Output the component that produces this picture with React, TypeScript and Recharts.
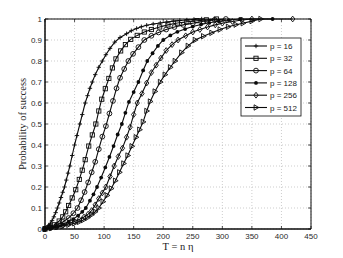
import React from 'react';
import { LineChart, Line, XAxis, YAxis, CartesianGrid, ReferenceArea } from 'recharts';

const xTicks = [0, 50, 100, 150, 200, 250, 300, 350, 400, 450];
const yTicks = [0, 0.1, 0.2, 0.3, 0.4, 0.5, 0.6, 0.7, 0.8, 0.9, 1];
const seriesLabels = ['p = 16', 'p = 32', 'p = 64', 'p = 128', 'p = 256', 'p = 512'];
const xTitle = 'T = n \u03B7';
const yTitle = 'Probability of success';

const p16: number[][] = [[0,0],[3,0.008],[6,0.016],[9,0.027],[12,0.04],[15,0.058],[18,0.078],[21,0.1],[24,0.124],[27,0.15],[30,0.175],[33,0.2],[36,0.233],[39,0.266],[42,0.3],[46,0.35],[50,0.4],[54,0.445],[59,0.5],[63,0.545],[68,0.6],[72,0.635],[76,0.67],[80,0.7],[85,0.735],[91,0.77],[97,0.8],[103,0.83],[110,0.86],[118,0.89],[127,0.912],[138,0.93],[146,0.944],[155,0.955],[163,0.963],[172,0.97],[183,0.976],[195,0.981],[206,0.986],[217,0.99],[228,0.993],[240,0.995],[252,0.998],[265,1]];
const p32: number[][] = [[0,0],[8,0.01],[16,0.02],[24,0.038],[30,0.058],[35,0.082],[40,0.112],[46,0.148],[52,0.187],[58,0.236],[63,0.28],[68,0.33],[74,0.395],[80,0.448],[86,0.5],[91,0.562],[96,0.618],[102,0.668],[108,0.717],[114,0.767],[120,0.81],[128,0.848],[136,0.878],[145,0.903],[156,0.922],[168,0.938],[180,0.95],[194,0.962],[208,0.972],[224,0.981],[240,0.987],[257,0.992],[273,0.996],[290,1]];
const p64: number[][] = [[0,0],[10,0.008],[20,0.018],[30,0.033],[40,0.052],[48,0.075],[55,0.1],[61,0.137],[67,0.176],[73,0.222],[79,0.27],[85,0.32],[91,0.38],[97,0.44],[103,0.49],[109,0.55],[115,0.61],[121,0.67],[127,0.72],[134,0.762],[141,0.8],[149,0.834],[158,0.866],[168,0.9],[180,0.92],[192,0.936],[205,0.95],[219,0.962],[234,0.972],[250,0.98],[268,0.989],[287,0.996],[306,1]];
const p128: number[][] = [[0,0],[10,0.006],[20,0.012],[30,0.022],[40,0.035],[48,0.047],[56,0.064],[63,0.082],[69,0.1],[76,0.135],[82,0.165],[88,0.2],[95,0.245],[102,0.293],[109,0.343],[116,0.395],[123,0.45],[130,0.5],[136,0.553],[142,0.605],[150,0.652],[158,0.7],[166,0.755],[173,0.8],[182,0.837],[191,0.872],[200,0.9],[212,0.922],[224,0.939],[237,0.952],[250,0.964],[264,0.974],[278,0.982],[294,0.989],[311,0.995],[330,1],[385,1]];
const p256: number[][] = [[0,0],[10,0.005],[20,0.01],[30,0.017],[40,0.026],[50,0.036],[58,0.045],[66,0.057],[73,0.071],[79,0.088],[85,0.115],[91,0.145],[97,0.172],[103,0.2],[110,0.25],[117,0.3],[124,0.345],[131,0.385],[138,0.437],[144,0.485],[150,0.545],[156,0.6],[164,0.645],[172,0.695],[180,0.745],[188,0.78],[196,0.814],[205,0.85],[215,0.878],[225,0.9],[238,0.92],[250,0.938],[262,0.95],[275,0.962],[288,0.972],[300,0.98],[317,0.988],[333,0.995],[350,1],[419,1]];
const p512: number[][] = [[0,0],[10,0.004],[20,0.009],[30,0.014],[40,0.02],[50,0.027],[58,0.034],[65,0.043],[72,0.054],[79,0.068],[85,0.082],[91,0.1],[98,0.13],[105,0.16],[112,0.193],[119,0.23],[126,0.27],[133,0.312],[140,0.35],[147,0.394],[154,0.437],[160,0.473],[166,0.51],[172,0.562],[178,0.607],[186,0.655],[195,0.7],[203,0.735],[212,0.77],[220,0.8],[231,0.84],[242,0.872],[254,0.9],[268,0.918],[282,0.934],[296,0.95],[310,0.963],[323,0.973],[335,0.98],[350,0.99],[365,1]];

const seriesData = [p16, p32, p64, p128, p256, p512];
const markerKinds = ['plus', 'square', 'circle', 'dot', 'diamond', 'triangle'];

// layout constants
const W = 343, H = 258;
const PL = 45, PR = 311, PT = 19, PB = 229;
const INK = '#0a0a0a';

function Marker({ kind, cx, cy }: { kind: string; cx: number; cy: number }) {
  if (cx == null || cy == null || isNaN(cx) || isNaN(cy)) return null;
  const sw = 0.9;
  switch (kind) {
    case 'plus':
      return <path d={`M${cx - 2.2},${cy}H${cx + 2.2}M${cx},${cy - 2.2}V${cy + 2.2}`} stroke={INK} strokeWidth={sw} fill="none" />;
    case 'square':
      return <rect x={cx - 2.1} y={cy - 2.1} width={4.2} height={4.2} stroke={INK} strokeWidth={sw} fill="none" />;
    case 'circle':
      return <circle cx={cx} cy={cy} r={2.4} stroke={INK} strokeWidth={sw} fill="none" />;
    case 'dot':
      return <circle cx={cx} cy={cy} r={1.9} stroke="none" fill={INK} />;
    case 'diamond':
      return <polygon points={`${cx},${cy - 2.9} ${cx + 2.2},${cy} ${cx},${cy + 2.9} ${cx - 2.2},${cy}`} stroke={INK} strokeWidth={sw} fill="none" />;
    default:
      return <polygon points={`${cx + 2.8},${cy} ${cx - 1.9},${cy - 2.7} ${cx - 1.9},${cy + 2.7}`} stroke={INK} strokeWidth={sw} fill="none" />;
  }
}

const XTick = (props: any) => {
  const { x, payload } = props;
  return (
    <g>
      <line x1={x} y1={PB} x2={x} y2={PB - 3} stroke={INK} strokeWidth={0.7} />
      <line x1={x} y1={PT} x2={x} y2={PT + 3} stroke={INK} strokeWidth={0.7} />
      <text x={x} y={PB + 9.5} textAnchor="middle" fontSize={8} fill="#2a2a2a" fontFamily="Liberation Sans, Arial, sans-serif">{payload.value}</text>
    </g>
  );
};

const YTick = (props: any) => {
  const { y, payload } = props;
  return (
    <g>
      <line x1={PL} y1={y} x2={PL + 3} y2={y} stroke={INK} strokeWidth={0.7} />
      <line x1={PR} y1={y} x2={PR - 3} y2={y} stroke={INK} strokeWidth={0.7} />
      <text x={PL - 3} y={y + 3} textAnchor="end" fontSize={8} fill="#2a2a2a" fontFamily="Liberation Sans, Arial, sans-serif">{payload.value}</text>
    </g>
  );
};

export default function App() {
  const rowY0 = 46, rowStep = 12.3;
  return (
    <div style={{ position: 'absolute', left: 0, top: 0, width: W, height: H, background: '#fff' }}>
      <LineChart width={W} height={H} margin={{ top: PT, right: W - PR, bottom: 0, left: 0 }}>
        <CartesianGrid stroke="#b8b8b8" strokeDasharray="1 2" strokeWidth={0.7} />
        <XAxis type="number" dataKey="x" domain={[0, 450]} ticks={xTicks} height={H - PB}
          axisLine={{ stroke: INK }} tickLine={false} tick={<XTick />} interval={0}
          label={{ content: () => <text x={(PL + PR) / 2} y={250} textAnchor="middle" fontSize={10.5} fill="#1a1a1a" fontFamily="Liberation Serif, Times New Roman, serif">{xTitle}</text> }} />
        <YAxis type="number" domain={[0, 1]} ticks={yTicks} width={PL}
          axisLine={{ stroke: INK }} tickLine={false} tick={<YTick />} interval={0}
          label={{ content: () => <text x={26} y={124} transform="rotate(-90 26 124)" textAnchor="middle" fontSize={10.5} fill="#1a1a1a" fontFamily="Liberation Serif, Times New Roman, serif">{yTitle}</text> }} />
        <ReferenceArea x1={0} x2={450} y1={0} y2={1} fill="none" stroke={INK} strokeWidth={1} ifOverflow="visible" />
        {seriesData.map((arr, i) => (
          <Line key={seriesLabels[i]} data={arr.map(([x, y]) => ({ x, y }))} dataKey="y" type="linear"
            stroke={INK} strokeWidth={1.1} isAnimationActive={false}
            dot={(p: any) => <Marker key={`m${i}-${p.index}`} kind={markerKinds[i]} cx={p.cx} cy={p.cy} />}
            activeDot={false} />
        ))}
      </LineChart>
      <svg width={W} height={H} style={{ position: 'absolute', left: 0, top: 0, pointerEvents: 'none' }}>
        <rect x={241} y={38} width={60} height={78} fill="#fff" stroke={INK} strokeWidth={0.8} />
        {seriesLabels.map((lab, i) => {
          const y = rowY0 + i * rowStep;
          return (
            <g key={lab}>
              <line x1={245} y1={y} x2={267} y2={y} stroke={INK} strokeWidth={1.1} />
              <Marker kind={markerKinds[i]} cx={256} cy={y} />
              <text x={270} y={y + 3} fontSize={8} fill="#1a1a1a" fontFamily="Liberation Sans, Arial, sans-serif">{lab}</text>
            </g>
          );
        })}
      </svg>
    </div>
  );
}
